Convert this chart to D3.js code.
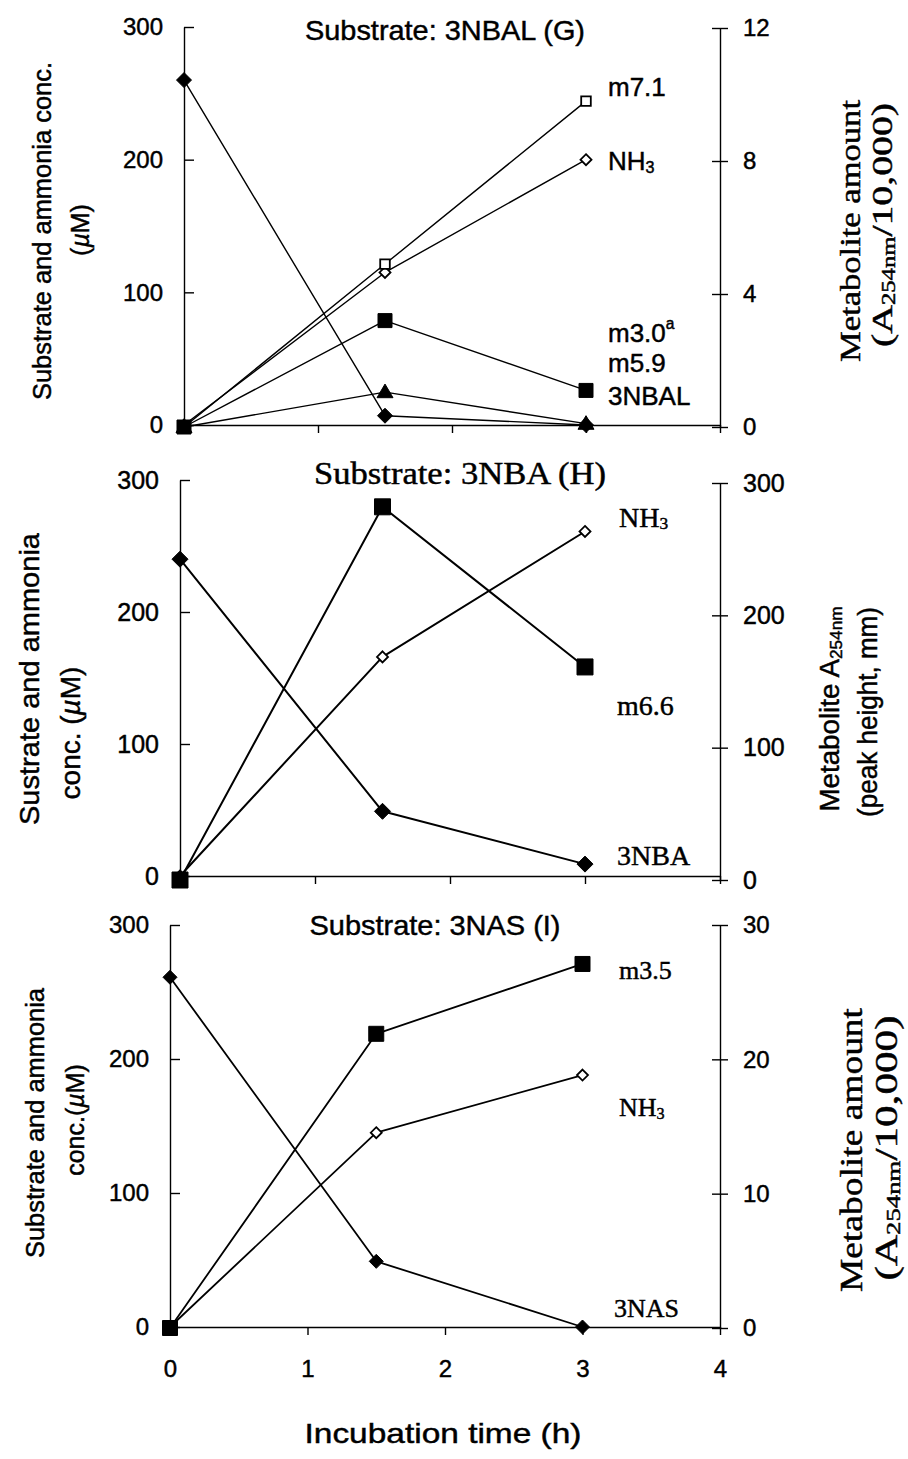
<!DOCTYPE html>
<html>
<head>
<meta charset="utf-8">
<script src="https://cdn.jsdelivr.net/npm/d3@7"></script>
<style>
  html, body { margin: 0; padding: 0; background: #fff; }
  svg { display: block; }
  svg text { stroke: #000; stroke-width: 0.45px; paint-order: stroke; }
</style>
</head>
<body>
<svg id="chart" width="908" height="1459"></svg>
<script>
// ---- data ----------------------------------------------------------
const time = [0, 1.5, 3];                 // incubation time (h)
const timeTicks = [0, 1, 2, 3, 4];
const concTicks = [0, 100, 200, 300];     // substrate / ammonia (uM)

// Substrate 3NBAL (G)
const nbalSubstrate = [260, 7, 0];
const nbalAmmonia   = [0, 115, 200];
const nbalM71       = [0, 4.9, 9.8];
const nbalM30       = [0, 3.2, 1.1];
const nbalM59       = [0, 1.05, 0.1];
const nbalMetTicks  = [0, 4, 8, 12];

// Substrate 3NBA (H)
const nbaSubstrate  = [240, 49, 9];
const nbaAmmonia    = [0, 166, 261];
const nbaM66        = [0, 282, 161];
const nbaMetTicks   = [0, 100, 200, 300];

// Substrate 3NAS (I)
const nasSubstrate  = [261, 49, 0];
const nasAmmonia    = [0, 145, 188];
const nasM35        = [0, 21.9, 27.1];
const nasMetTicks   = [0, 10, 20, 30];

// ---- layout --------------------------------------------------------
const SANS  = '"Liberation Sans", Arial, Helvetica, sans-serif';
const SERIF = '"Liberation Serif", "Times New Roman", Times, serif';

const panels = [
  {
    x0: 184, x1: 720, yTop: 27, yBot: 425, yTopR: 28, yBotR: 427,
    metMax: 12, metTicks: nbalMetTicks, lw: 1.4, tickFont: 24,
    title: { parts: [{ t: 'Substrate: 3NBAL (G)' }], x: 445, y: 40, font: SANS, size: 28, len: 280 },
    series: [
      { v: nbalSubstrate, axis: 'L', m: 'diamond', r: 7.5, open: false },
      { v: nbalAmmonia,   axis: 'L', m: 'diamond', r: 5.5, open: true },
      { v: nbalM71,       axis: 'R', m: 'square',  r: 4.8, open: true },
      { v: nbalM30,       axis: 'R', m: 'square',  r: 7,   open: false },
      { v: nbalM59,       axis: 'R', m: 'triangle',r: 8,   open: false }
    ],
    labels: [
      { parts: [{ t: 'm7.1' }], x: 608, y: 87 },
      { parts: [{ t: 'NH' }, { t: '3', sub: true }], x: 608, y: 161 },
      { parts: [{ t: 'm3.0' }, { t: 'a', sup: true }], x: 608, y: 333 },
      { parts: [{ t: 'm5.9' }], x: 608, y: 363 },
      { parts: [{ t: '3NBAL' }], x: 608, y: 396 }
    ],
    labelFont: SANS, labelSize: 26,
    leftTitle: [
      { parts: [{ t: 'Substrate and ammonia conc.' }], x: 42, y: 231, len: 338 },
      { parts: [{ t: '(' }, { t: 'µ', it: true }, { t: 'M)' }], x: 80, y: 230 }
    ],
    leftFont: SANS, leftSize: 25,
    rightTitle: [
      { parts: [{ t: 'Metabolite amount' }], x: 849, y: 231, len: 262 },
      { parts: [{ t: '(A' }, { t: '254nm', sub: true }, { t: '/10,000)' }], x: 881, y: 225, len: 244 }
    ],
    rightFont: SERIF, rightSize: 30,
    xLabels: false
  },
  {
    x0: 180, x1: 720, yTop: 480, yBot: 876, yTopR: 483, yBotR: 880,
    metMax: 300, metTicks: nbaMetTicks, lw: 2, tickFont: 25,
    title: { parts: [{ t: 'Substrate: 3NBA (H)' }], x: 460, y: 484, font: SERIF, size: 31, len: 292 },
    series: [
      { v: nbaSubstrate, axis: 'L', m: 'diamond', r: 8,   open: false },
      { v: nbaAmmonia,   axis: 'L', m: 'diamond', r: 5.5, open: true },
      { v: nbaM66,       axis: 'R', m: 'square',  r: 8,   open: false }
    ],
    labels: [
      { parts: [{ t: 'NH' }, { t: '3', sub: true }], x: 619, y: 517 },
      { parts: [{ t: 'm6.6' }], x: 617, y: 705 },
      { parts: [{ t: '3NBA' }], x: 617, y: 855 }
    ],
    labelFont: SERIF, labelSize: 28,
    leftTitle: [
      { parts: [{ t: 'Sustrate and ammonia' }], x: 29, y: 679, len: 292 },
      { parts: [{ t: 'conc. (' }, { t: 'µ', it: true }, { t: 'M)' }], x: 70, y: 733 }
    ],
    leftFont: SANS, leftSize: 28,
    rightTitle: [
      { parts: [{ t: 'Metabolite A' }, { t: '254nm', sub: true }], x: 830, y: 709, len: 205 },
      { parts: [{ t: '(peak height, mm)' }], x: 868, y: 712, len: 210 }
    ],
    rightFont: SANS, rightSize: 27,
    xLabels: false
  },
  {
    x0: 170, x1: 720, yTop: 925, yBot: 1327, yTopR: 925, yBotR: 1328,
    metMax: 30, metTicks: nasMetTicks, lw: 1.8, tickFont: 24,
    title: { parts: [{ t: 'Substrate: 3NAS (I)' }], x: 435, y: 935, font: SANS, size: 28, len: 251 },
    series: [
      { v: nasSubstrate, axis: 'L', m: 'diamond', r: 7,   open: false },
      { v: nasAmmonia,   axis: 'L', m: 'diamond', r: 5.5, open: true },
      { v: nasM35,       axis: 'R', m: 'square',  r: 7.5, open: false }
    ],
    labels: [
      { parts: [{ t: 'm3.5' }], x: 619, y: 970 },
      { parts: [{ t: 'NH' }, { t: '3', sub: true }], x: 619, y: 1107 },
      { parts: [{ t: '3NAS' }], x: 614, y: 1308 }
    ],
    labelFont: SERIF, labelSize: 26,
    leftTitle: [
      { parts: [{ t: 'Substrate and ammonia' }], x: 35, y: 1123, len: 270 },
      { parts: [{ t: 'conc.(' }, { t: 'µ', it: true }, { t: 'M)' }], x: 75, y: 1120 }
    ],
    leftFont: SANS, leftSize: 25,
    rightTitle: [
      { parts: [{ t: 'Metabolite amount' }], x: 851, y: 1150, len: 284 },
      { parts: [{ t: '(A' }, { t: '254nm', sub: true }, { t: '/10,000)' }], x: 886, y: 1148, len: 265 }
    ],
    rightFont: SERIF, rightSize: 32,
    xLabels: true
  }
];

const svg = d3.select('#chart');

// writes a text element made of plain / subscript / superscript / italic runs
function richText(sel, parts, size) {
  parts.forEach((p, i) => {
    const ts = sel.append('tspan').text(p.t);
    if (p.sub) {
      ts.attr('font-size', size * 0.62).attr('dy', size * 0.22);
    } else if (p.sup) {
      ts.attr('font-size', size * 0.6).attr('dy', -size * 0.38);
    } else {
      const prev = parts[i - 1];
      if (prev && prev.sub) ts.attr('dy', -size * 0.22);
      if (prev && prev.sup) ts.attr('dy', size * 0.38);
    }
    if (p.it) ts.attr('font-style', 'italic');
  });
  return sel;
}

function markerPath(type, r) {
  if (type === 'diamond') return `M0,${-r}L${r},0L0,${r}L${-r},0Z`;
  if (type === 'square') return `M${-r},${-r}H${r}V${r}H${-r}Z`;
  return `M0,${-r}L${r},${r * 0.7}L${-r},${r * 0.7}Z`;
}

panels.forEach(p => {
  const g = svg.append('g');
  const x  = d3.scaleLinear().domain([0, 4]).range([p.x0, p.x1]);
  const yL = d3.scaleLinear().domain([0, 300]).range([p.yBot, p.yTop]);
  const yR = d3.scaleLinear().domain([0, p.metMax]).range([p.yBotR, p.yTopR]);

  // left axis, ticks pointing into the plot
  const ax = g.append('g').attr('transform', `translate(${p.x0},0)`)
    .call(d3.axisLeft(yL).tickValues(concTicks).tickSizeInner(-10).tickSizeOuter(0).tickPadding(21));
  // right axis, ticks crossing the line
  const ar = g.append('g').attr('transform', `translate(${p.x1},0)`)
    .call(d3.axisRight(yR).tickValues(p.metTicks).tickSizeInner(8).tickSizeOuter(0).tickPadding(15));
  ar.selectAll('.tick line').attr('x1', -8);
  // time axis
  const xa = d3.axisBottom(x).tickValues(timeTicks).tickSizeInner(8).tickSizeOuter(0).tickPadding(25)
    .tickFormat(d3.format('d'));
  if (!p.xLabels) xa.tickFormat(() => '');
  const ab = g.append('g').attr('transform', `translate(0,${p.yBot})`).call(xa);

  [ax, ar, ab].forEach(a => {
    a.attr('font-family', SANS).attr('font-size', p.tickFont);
    a.selectAll('path, line').attr('stroke', '#000').attr('stroke-width', 1.4);
    a.selectAll('text').attr('fill', '#000');
  });

  // series lines
  const line = sc => d3.line().x((d, i) => x(time[i])).y(d => sc(d));
  p.series.forEach(s => {
    const sc = s.axis === 'L' ? yL : yR;
    g.append('path').datum(s.v)
      .attr('d', line(sc))
      .attr('fill', 'none').attr('stroke', '#000')
      .attr('stroke-width', p.lw).attr('stroke-linejoin', 'round');
  });
  // series markers
  p.series.forEach(s => {
    const sc = s.axis === 'L' ? yL : yR;
    g.selectAll(null).data(s.v).join('path')
      .attr('transform', (d, i) => `translate(${x(time[i])},${sc(d)})`)
      .attr('d', markerPath(s.m, s.r))
      .attr('fill', s.open ? '#fff' : '#000')
      .attr('stroke', '#000').attr('stroke-width', s.open ? 1.8 : 1);
  });

  // panel title
  const t = g.append('text')
    .attr('x', p.title.x).attr('y', p.title.y)
    .attr('text-anchor', 'middle')
    .attr('font-family', p.title.font).attr('font-size', p.title.size);
  richText(t, p.title.parts, p.title.size);
  if (p.title.len) t.attr('textLength', p.title.len).attr('lengthAdjust', 'spacingAndGlyphs');

  // series labels
  p.labels.forEach(l => {
    const lt = g.append('text')
      .attr('x', l.x).attr('y', l.y)
      .attr('dominant-baseline', 'central')
      .attr('font-family', p.labelFont).attr('font-size', p.labelSize);
    richText(lt, l.parts, p.labelSize);
  });

  // rotated axis titles
  const rotated = (list, font, size) => list.forEach(l => {
    const rt = g.append('text')
      .attr('transform', `translate(${l.x},${l.y}) rotate(-90)`)
      .attr('text-anchor', 'middle').attr('dominant-baseline', 'central')
      .attr('font-family', font).attr('font-size', size);
    richText(rt, l.parts, size);
    if (l.len) rt.attr('textLength', l.len).attr('lengthAdjust', 'spacingAndGlyphs');
  });
  rotated(p.leftTitle, p.leftFont, p.leftSize);
  rotated(p.rightTitle, p.rightFont, p.rightSize);
});

// shared time axis title
svg.append('text')
  .attr('x', 443).attr('y', 1443)
  .attr('text-anchor', 'middle')
  .attr('font-family', SANS).attr('font-size', 28)
  .attr('textLength', 277).attr('lengthAdjust', 'spacingAndGlyphs')
  .text('Incubation time (h)');
</script>
</body>
</html>
